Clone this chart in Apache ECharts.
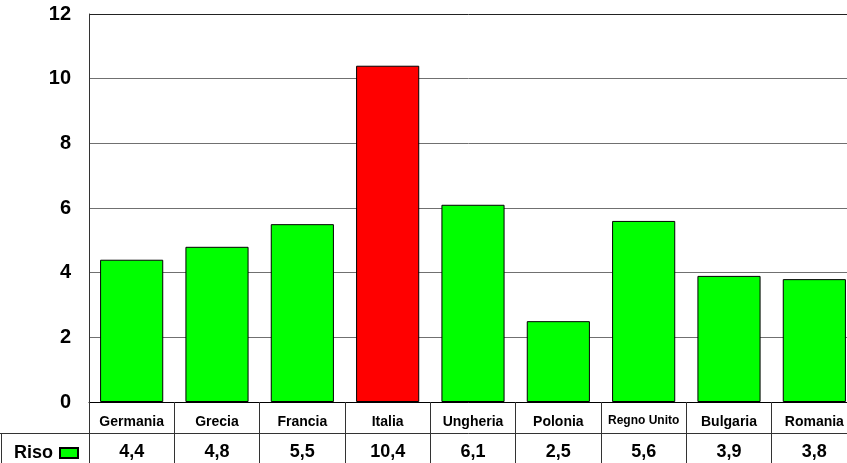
<!DOCTYPE html>
<html>
<head>
<meta charset="utf-8">
<script src="https://cdn.jsdelivr.net/npm/echarts@6/dist/echarts.min.js"></script>
<style>html,body{margin:0;padding:0;background:#fff}#c{width:847px;height:463px}</style>
</head>
<body>
<div id="c"></div>
<script>
var categories = ['Germania','Grecia','Francia','Italia','Ungheria','Polonia','Regno Unito','Bulgaria','Romania'];
var values = [4.4, 4.8, 5.5, 10.4, 6.1, 2.5, 5.6, 3.9, 3.8];
var seriesName = 'Riso';
var highlightCategory = 'Italia';
var yTicks = [0, 2, 4, 6, 8, 10, 12];

var FONT = '"Liberation Sans", Arial, sans-serif';
var chart = echarts.init(document.getElementById('c'), null, {renderer: 'canvas'});

var barData = values.map(function (v, i) {
  return categories[i] === highlightCategory
    ? {value: v, itemStyle: {color: '#FF0000'}}
    : v;
});

chart.setOption({
  animation: false,
  backgroundColor: '#ffffff',
  grid: {left: 89, top: 14, bottom: 61, width: 768, containLabel: false, outerBoundsMode: 'none'},
  legend: {
    data: [seriesName],
    left: 9, top: 439,
    align: 'right',
    itemWidth: 18, itemHeight: 10,
    itemGap: 0,
    textStyle: {fontFamily: FONT, fontWeight: 'bold', fontSize: 18, color: '#000', padding: [0, 2, 0, 0]},
    icon: 'rect'
  },
  xAxis: [{
    type: 'category',
    data: categories,
    position: 'bottom',
    axisLine: {show: true, lineStyle: {color: '#000', width: 1}},
    axisTick: {show: true, alignWithLabel: false, length: 61, lineStyle: {color: '#333', width: 1}},
    axisLabel: {
      interval: 0, margin: 13,
      fontFamily: FONT, fontWeight: 'bold', fontSize: 14, color: '#000',
      formatter: function (v) { return v === 'Regno Unito' ? '{s|' + v + '}' : v; },
      rich: {s: {fontFamily: FONT, fontWeight: 'bold', fontSize: 12, color: '#000', padding: [0, 0, 8, 0]}}
    },
    splitLine: {show: false}
  }, {
    type: 'category',
    data: categories,
    position: 'bottom',
    offset: 31,
    axisLine: {show: true, lineStyle: {color: '#333', width: 1}},
    axisTick: {show: false},
    axisLabel: {
      interval: 0, margin: 10,
      fontFamily: FONT, fontWeight: 'bold', fontSize: 18, color: '#000',
      formatter: function (v, i) { return values[i].toFixed(1).replace('.', ','); }
    }
  }],
  yAxis: {
    type: 'value',
    min: yTicks[0], max: yTicks[yTicks.length - 1], interval: 2,
    axisLine: {show: true, lineStyle: {color: '#333', width: 1}},
    axisTick: {show: false},
    axisLabel: {margin: 18, fontFamily: FONT, fontWeight: 'bold', fontSize: 20, color: '#000'},
    splitLine: {show: true, lineStyle: {color: ['#707070','#707070','#707070','#707070','#707070','#707070','#222222'], width: 1}}
  },
  graphic: [
    {type: 'line', shape: {x1: 0, y1: 433.5, x2: 89, y2: 433.5}, style: {stroke: '#333', lineWidth: 1}},
    {type: 'line', shape: {x1: 1.5, y1: 433, x2: 1.5, y2: 463}, style: {stroke: '#333', lineWidth: 1}}
  ],
  series: [{
    name: seriesName,
    type: 'bar',
    xAxisIndex: 0,
    data: barData,
    barWidth: '74%',
    itemStyle: {color: '#00FF00', borderColor: '#000', borderWidth: 1}
  }]
});
</script>
</body>
</html>
